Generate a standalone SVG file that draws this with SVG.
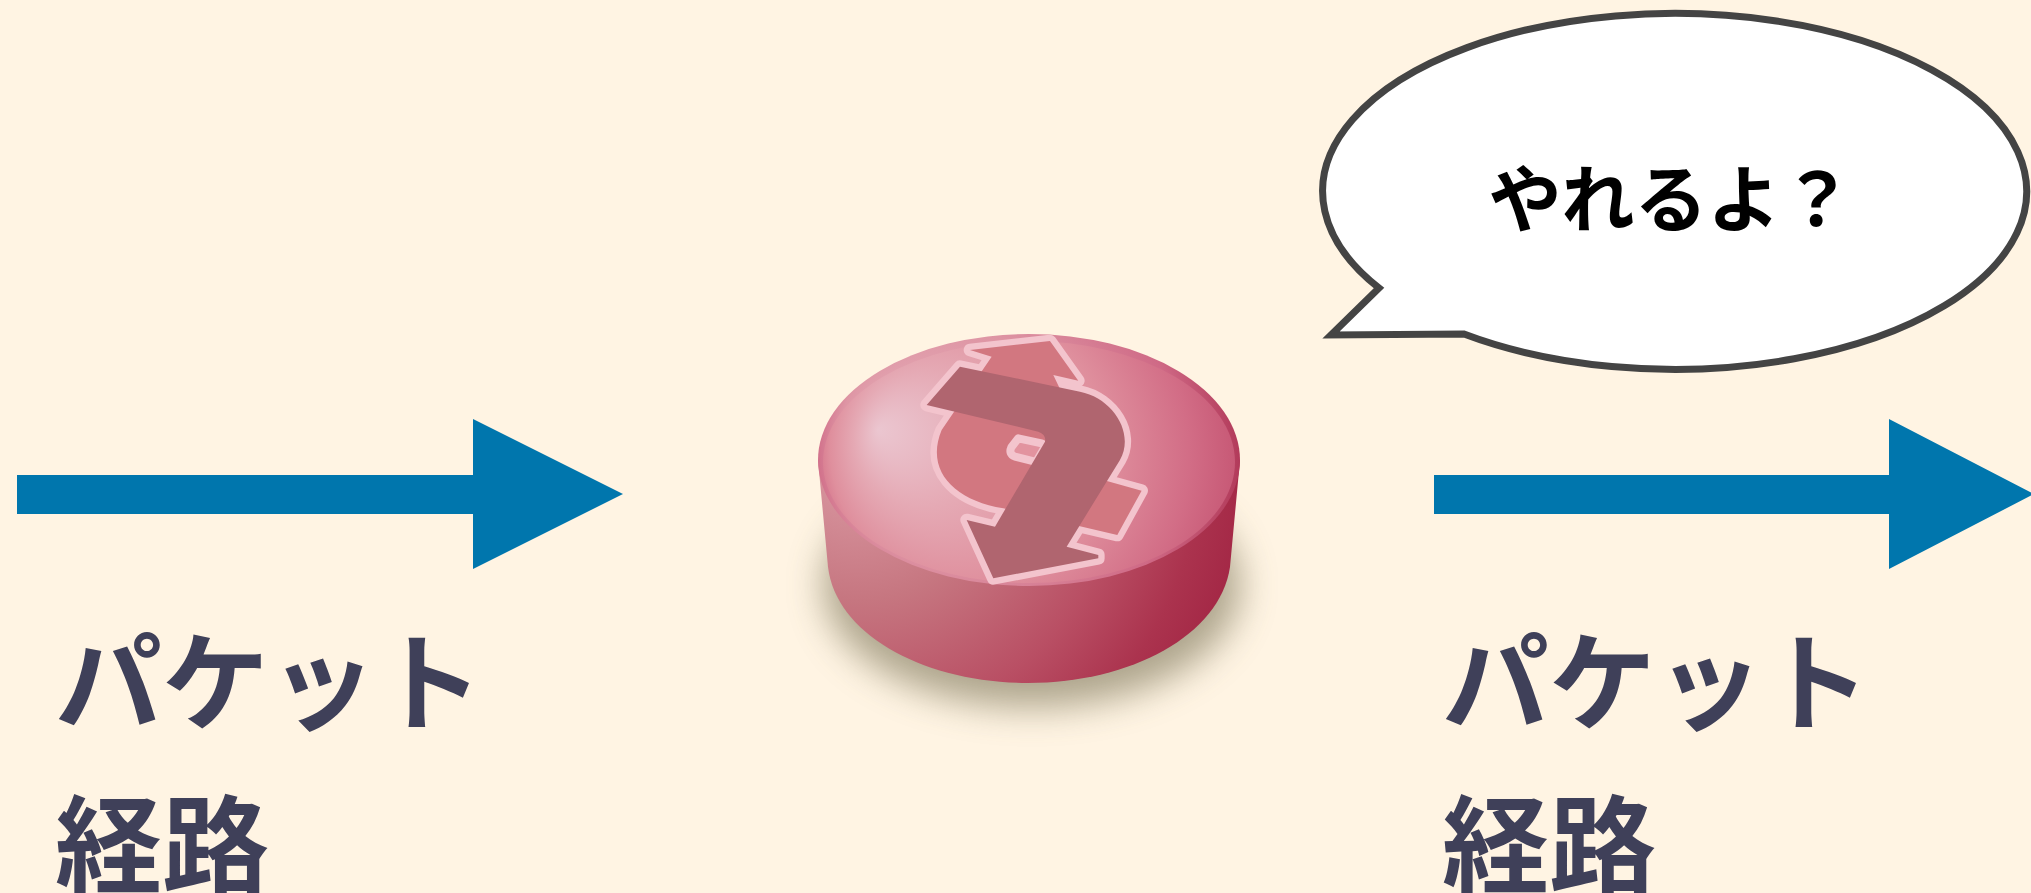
<svg xmlns="http://www.w3.org/2000/svg" width="2031" height="893" viewBox="0 0 2031 893">
<style>
.lbl{font-family:"Noto Sans CJK JP","Noto Sans",sans-serif;font-size:107px;font-weight:700;fill:#3f4059}
.arr{fill:#0076ad}
.ic{stroke:#f3c4cd;stroke-width:38;stroke-linejoin:round}
</style>
<defs>
<radialGradient id="top" gradientUnits="userSpaceOnUse" cx="1028" cy="460" r="230" fx="878" fy="430">
<stop offset="0" stop-color="#ebc6d0"/><stop offset=".3" stop-color="#e5a9b4"/><stop offset=".6" stop-color="#df8f9d"/><stop offset=".82" stop-color="#d26d86"/><stop offset="1" stop-color="#c24f6e"/>
</radialGradient>
<radialGradient id="rim" gradientUnits="userSpaceOnUse" cx="1028" cy="460" r="230" fx="878" fy="430">
<stop offset="0" stop-color="#e7b3bd"/><stop offset=".5" stop-color="#de95a4"/><stop offset=".8" stop-color="#cf6a86"/><stop offset="1" stop-color="#a92b4c"/>
</radialGradient>
<radialGradient id="side" gradientUnits="userSpaceOnUse" cx="860" cy="460" r="400">
<stop offset="0" stop-color="#dc9ca6"/><stop offset=".35" stop-color="#c67680"/><stop offset=".65" stop-color="#b94f64"/><stop offset=".85" stop-color="#ab334e"/><stop offset="1" stop-color="#a22544"/>
</radialGradient>
<filter id="blur" x="-20%" y="-20%" width="140%" height="140%"><feGaussianBlur stdDeviation="18"/></filter>
<path id="up" d="M1055 452L982 585 640 505C490 480 405 390 455 270L605 50 540 30 780 3 865 122 790 105 940 420Z"/>
<path id="down" d="M510 80L870 155C970 175 1035 280 990 360L830 620 925 645 925 655 610 715 530 540 615 560 765 305Q770 285 745 275L410 195Z"/>
</defs>
<rect width="2031" height="893" fill="#fff4e3"/>
<g id="connectors">
<path class="arr" d="M17 475H473V419L623 494 473 569V514H17Z"/>
<path class="arr" d="M1434 475H1889V419L2034 494 1889 569V514H1434Z"/>
</g>
<g id="router">
<ellipse cx="1032" cy="585" rx="208" ry="122" fill="#6b6444" opacity=".55" filter="url(#blur)"/>
<path d="M818 460L828 567C836 635 925 683 1028 683S1220 635 1230 567L1240 460Z" fill="url(#side)"/>
<ellipse cx="1029" cy="460" rx="211" ry="126" fill="url(#rim)"/>
<ellipse cx="1029" cy="462" rx="206" ry="121" fill="url(#top)"/>
<g transform="translate(790 340) scale(.3333)">
<use href="#up" class="ic"/>
<use href="#down" class="ic"/>
<use href="#up" fill="#d27780"/>
<path stroke="#f3c4cd" stroke-width="24" stroke-linejoin="round" fill="#e2939f" d="M685 295L755 310Q768 316 758 332L738 366 675 350Q655 342 664 322Z"/>
<use href="#down" fill="#b0656f"/>
</g>
</g>
<g id="bubble">
<path d="M1464 334A352 178 0 1 0 1379 288L1331 335Z" fill="#fff" stroke="#444" stroke-width="7"/>
<text x="1671" y="226" text-anchor="middle" font-family="Noto Sans CJK JP,sans-serif" font-size="73" font-weight="700" fill="#000">やれるよ？</text>
</g>
<g id="label-left"><text class="lbl" x="55" y="722">パケット</text><text class="lbl" x="55" y="885">経路</text></g>
<g id="label-right"><text class="lbl" x="1442" y="722">パケット</text><text class="lbl" x="1442" y="885">経路</text></g>
</svg>
